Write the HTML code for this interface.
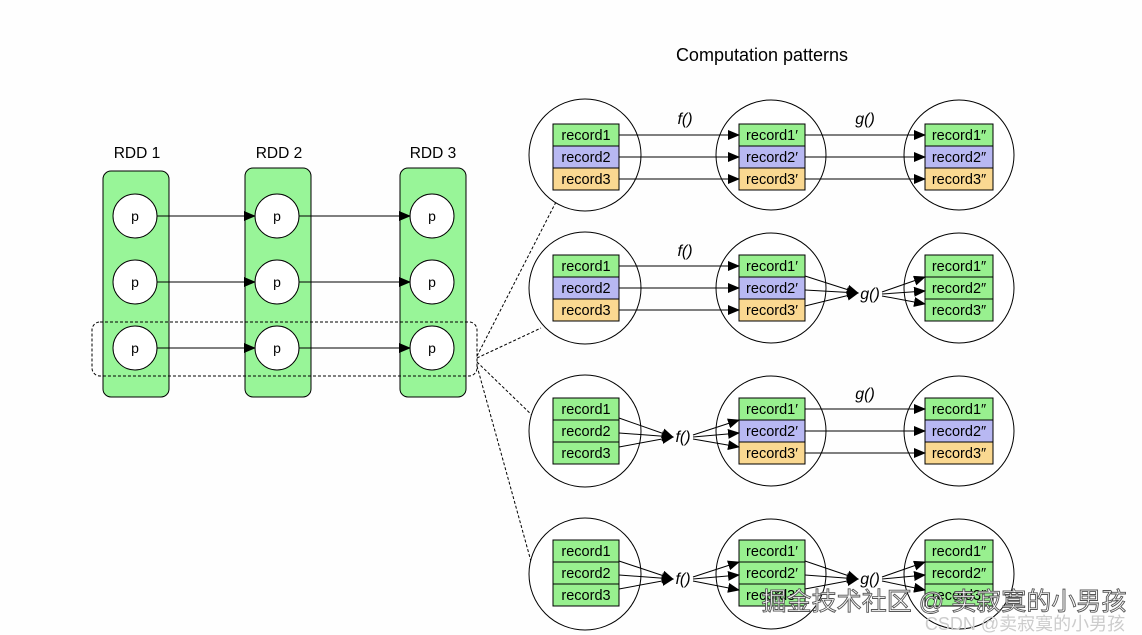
<!DOCTYPE html>
<html><head><meta charset="utf-8"><style>
html,body{margin:0;padding:0;background:#fff;}
svg{display:block;font-family:"Liberation Sans",Arial,sans-serif;}
</style></head><body>
<svg width="1142" height="635" viewBox="0 0 1142 635" xmlns="http://www.w3.org/2000/svg">
<defs>
<marker id="a" markerWidth="12" markerHeight="10" refX="11" refY="5" orient="auto" markerUnits="userSpaceOnUse">
<path d="M0,0 L12,5 L0,10 z" fill="#000"/></marker>
</defs>
<rect width="1142" height="635" fill="#fefefe"/>
<text x="762" y="61" font-size="18" text-anchor="middle">Computation patterns</text>
<g font-size="15.5" text-anchor="middle">
<text x="137" y="158">RDD 1</text><text x="279" y="158">RDD 2</text><text x="433" y="158">RDD 3</text></g>
<g fill="#98f598" stroke="#000" stroke-width="1">
<rect x="103" y="171" width="66" height="226" rx="8"/>
<rect x="245" y="168" width="66" height="229" rx="8"/>
<rect x="400" y="168" width="66" height="229" rx="8"/>
</g>
<rect x="92" y="322" width="385" height="54" rx="8" fill="none" stroke="#000" stroke-dasharray="3,2"/>
<g fill="#fff" stroke="#000">
<circle cx="135" cy="216" r="22"/><circle cx="135" cy="282" r="22"/><circle cx="135" cy="348" r="22"/>
<circle cx="277" cy="216" r="22"/><circle cx="277" cy="282" r="22"/><circle cx="277" cy="348" r="22"/>
<circle cx="432" cy="216" r="22"/><circle cx="432" cy="282" r="22"/><circle cx="432" cy="348" r="22"/>
</g>
<g font-size="14" text-anchor="middle">
<text x="135" y="221">p</text><text x="135" y="287">p</text><text x="135" y="353">p</text>
<text x="277" y="221">p</text><text x="277" y="287">p</text><text x="277" y="353">p</text>
<text x="432" y="221">p</text><text x="432" y="287">p</text><text x="432" y="353">p</text>
</g>
<g stroke="#000" marker-end="url(#a)">
<line x1="157" y1="216" x2="255" y2="216"/><line x1="157" y1="282" x2="255" y2="282"/><line x1="157" y1="348" x2="255" y2="348"/>
<line x1="299" y1="216" x2="410" y2="216"/><line x1="299" y1="282" x2="410" y2="282"/><line x1="299" y1="348" x2="410" y2="348"/>
</g>
<g stroke="#000" stroke-dasharray="3,2">
<line x1="477" y1="356" x2="557" y2="200"/>
<line x1="477" y1="358" x2="541" y2="328"/>
<line x1="477" y1="362" x2="537" y2="420"/>
<line x1="477" y1="366" x2="532" y2="565"/>
</g>
<g fill="#fff" stroke="#000">
<circle cx="585" cy="155" r="56"/><circle cx="771" cy="155" r="55"/><circle cx="959" cy="155" r="55"/>
<circle cx="585" cy="288" r="56"/><circle cx="771" cy="288" r="55"/><circle cx="959" cy="288" r="55"/>
<circle cx="585" cy="431" r="56"/><circle cx="771" cy="431" r="55"/><circle cx="959" cy="431" r="55"/>
<circle cx="585" cy="574" r="56"/><circle cx="771" cy="574" r="55"/><circle cx="959" cy="574" r="55"/>
</g>
<g stroke="#000">
<rect x="553" y="124" width="66" height="22" fill="#98f08f"/><rect x="553" y="146" width="66" height="22" fill="#b8b8f2"/><rect x="553" y="168" width="66" height="22" fill="#fad891"/>
<rect x="739" y="124" width="66" height="22" fill="#98f08f"/><rect x="739" y="146" width="66" height="22" fill="#b8b8f2"/><rect x="739" y="168" width="66" height="22" fill="#fad891"/>
<rect x="925" y="124" width="68" height="22" fill="#98f08f"/><rect x="925" y="146" width="68" height="22" fill="#b8b8f2"/><rect x="925" y="168" width="68" height="22" fill="#fad891"/>
<rect x="553" y="255" width="66" height="22" fill="#98f08f"/><rect x="553" y="277" width="66" height="22" fill="#b8b8f2"/><rect x="553" y="299" width="66" height="22" fill="#fad891"/>
<rect x="739" y="255" width="66" height="22" fill="#98f08f"/><rect x="739" y="277" width="66" height="22" fill="#b8b8f2"/><rect x="739" y="299" width="66" height="22" fill="#fad891"/>
<rect x="925" y="255" width="68" height="22" fill="#98f08f"/><rect x="925" y="277" width="68" height="22" fill="#98f08f"/><rect x="925" y="299" width="68" height="22" fill="#98f08f"/>
<rect x="553" y="398" width="66" height="22" fill="#98f08f"/><rect x="553" y="420" width="66" height="22" fill="#98f08f"/><rect x="553" y="442" width="66" height="22" fill="#98f08f"/>
<rect x="739" y="398" width="66" height="22" fill="#98f08f"/><rect x="739" y="420" width="66" height="22" fill="#b8b8f2"/><rect x="739" y="442" width="66" height="22" fill="#fad891"/>
<rect x="925" y="398" width="68" height="22" fill="#98f08f"/><rect x="925" y="420" width="68" height="22" fill="#b8b8f2"/><rect x="925" y="442" width="68" height="22" fill="#fad891"/>
<rect x="553" y="540" width="66" height="22" fill="#98f08f"/><rect x="553" y="562" width="66" height="22" fill="#98f08f"/><rect x="553" y="584" width="66" height="22" fill="#98f08f"/>
<rect x="739" y="540" width="66" height="22" fill="#98f08f"/><rect x="739" y="562" width="66" height="22" fill="#98f08f"/><rect x="739" y="584" width="66" height="22" fill="#98f08f"/>
<rect x="925" y="540" width="68" height="22" fill="#98f08f"/><rect x="925" y="562" width="68" height="22" fill="#98f08f"/><rect x="925" y="584" width="68" height="22" fill="#98f08f"/>
</g>
<g font-size="14.5" text-anchor="middle">
<text x="586" y="140">record1</text><text x="586" y="162">record2</text><text x="586" y="184">record3</text>
<text x="772" y="140">record1′</text><text x="772" y="162">record2′</text><text x="772" y="184">record3′</text>
<text x="959" y="140">record1″</text><text x="959" y="162">record2″</text><text x="959" y="184">record3″</text>
<text x="586" y="271">record1</text><text x="586" y="293">record2</text><text x="586" y="315">record3</text>
<text x="772" y="271">record1′</text><text x="772" y="293">record2′</text><text x="772" y="315">record3′</text>
<text x="959" y="271">record1″</text><text x="959" y="293">record2″</text><text x="959" y="315">record3″</text>
<text x="586" y="414">record1</text><text x="586" y="436">record2</text><text x="586" y="458">record3</text>
<text x="772" y="414">record1′</text><text x="772" y="436">record2′</text><text x="772" y="458">record3′</text>
<text x="959" y="414">record1″</text><text x="959" y="436">record2″</text><text x="959" y="458">record3″</text>
<text x="586" y="556">record1</text><text x="586" y="578">record2</text><text x="586" y="600">record3</text>
<text x="772" y="556">record1′</text><text x="772" y="578">record2′</text><text x="772" y="600">record3′</text>
<text x="959" y="556">record1″</text><text x="959" y="578">record2″</text><text x="959" y="600">record3″</text>
</g>
<g font-size="16" font-style="italic" text-anchor="middle">
<text x="685" y="124">f()</text><text x="865" y="124">g()</text>
<text x="685" y="256">f()</text><text x="870" y="299">g()</text>
<text x="683" y="442">f()</text><text x="865" y="399">g()</text>
<text x="683" y="584">f()</text><text x="870" y="584">g()</text>
</g>
<g stroke="#000" marker-end="url(#a)">
<line x1="619" y1="135" x2="739" y2="135"/><line x1="619" y1="157" x2="739" y2="157"/><line x1="619" y1="179" x2="739" y2="179"/>
<line x1="805" y1="135" x2="925" y2="135"/><line x1="805" y1="157" x2="925" y2="157"/><line x1="805" y1="179" x2="925" y2="179"/>
<line x1="619" y1="266" x2="739" y2="266"/><line x1="619" y1="288" x2="739" y2="288"/><line x1="619" y1="310" x2="739" y2="310"/>
<line x1="805" y1="276" x2="858" y2="293"/><line x1="805" y1="290" x2="858" y2="293"/><line x1="805" y1="306" x2="858" y2="293"/>
<line x1="882" y1="292" x2="925" y2="277"/><line x1="882" y1="294" x2="925" y2="291"/><line x1="882" y1="296" x2="925" y2="304"/>
<line x1="619" y1="418" x2="673" y2="437"/><line x1="619" y1="433" x2="673" y2="437"/><line x1="619" y1="447" x2="673" y2="437"/>
<line x1="693" y1="435" x2="739" y2="420"/><line x1="693" y1="437" x2="739" y2="433"/><line x1="693" y1="439" x2="739" y2="447"/>
<line x1="805" y1="409" x2="925" y2="409"/><line x1="805" y1="431" x2="925" y2="431"/><line x1="805" y1="453" x2="925" y2="453"/>
<line x1="619" y1="561" x2="673" y2="579"/><line x1="619" y1="575" x2="673" y2="579"/><line x1="619" y1="589" x2="673" y2="579"/>
<line x1="693" y1="577" x2="739" y2="562"/><line x1="693" y1="579" x2="739" y2="575"/><line x1="693" y1="581" x2="739" y2="590"/>
<line x1="805" y1="561" x2="858" y2="579"/><line x1="805" y1="575" x2="858" y2="579"/><line x1="805" y1="589" x2="858" y2="579"/>
<line x1="882" y1="577" x2="925" y2="562"/><line x1="882" y1="579" x2="925" y2="575"/><line x1="882" y1="581" x2="925" y2="590"/>
</g>
<text x="944" y="610" font-size="25" text-anchor="middle" textLength="365" fill="#fff" stroke="#555" stroke-width="0.9" font-family="'Liberation Sans','Noto Sans CJK SC',sans-serif">掘金技术社区 @ 卖寂寞的小男孩</text>
<text x="1025" y="630" font-size="18" text-anchor="middle" fill="#ccc" font-family="'Liberation Sans','Noto Sans CJK SC',sans-serif">CSDN @卖寂寞的小男孩</text>
</svg>
</body></html>
